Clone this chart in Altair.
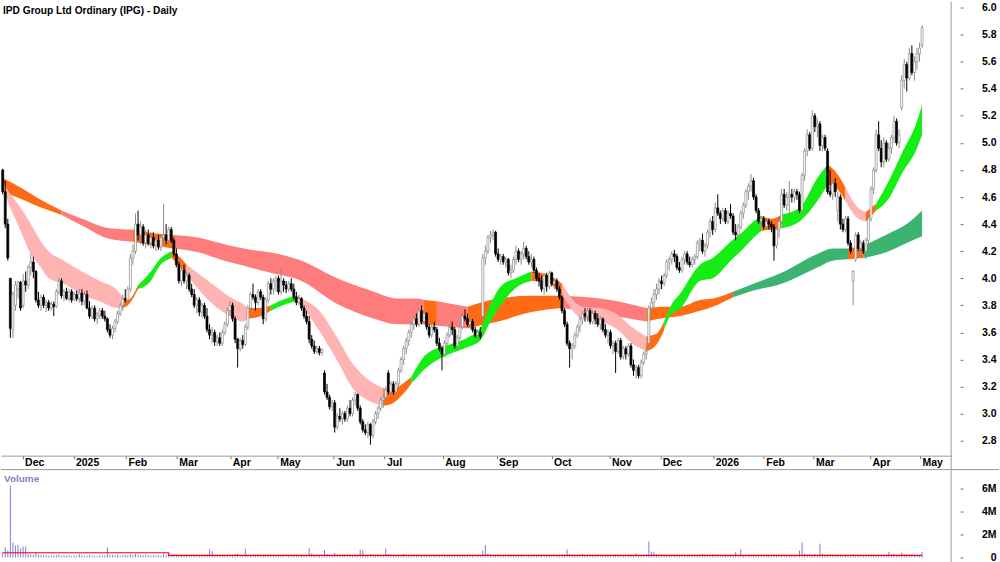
import json
import pandas as pd
import altair as alt

TITLE = "IPD Group Ltd Ordinary (IPG) - Daily"
FONT = "Liberation Sans, Arial, sans-serif"

# ---- daily candles (prices in cents), one value per trading day ----
OPEN = [
    480, 464, 440, 400, 362, 380, 392, 397, 380, 398,
    395, 408, 412, 405, 384, 380, 386, 380, 382, 378,
    381, 379, 390, 398, 387, 390, 385, 390, 384, 388,
    385, 389, 383, 388, 378, 372, 378, 370, 373, 376,
    372, 370, 362, 358, 363, 368, 374, 380, 385, 384,
    392, 415, 420, 440, 432, 438, 426, 432, 426, 430,
    424, 428, 423, 430, 432, 428, 436, 428, 418, 410,
    398, 406, 398, 402, 392, 388, 380, 384, 375, 380,
    372, 362, 358, 360, 353, 356, 352, 360, 366, 376,
    380, 370, 355, 348, 354, 351, 364, 378, 388, 386,
    382, 390, 386, 370, 384, 396, 392, 398, 400, 390,
    398, 395, 392, 396, 392, 386, 382, 385, 378, 372,
    368, 355, 350, 346, 348, 345, 330, 316, 312, 305,
    308, 290, 298, 296, 300, 296, 304, 300, 310, 314,
    304, 294, 288, 286, 292, 284, 294, 300, 304, 310,
    312, 330, 316, 322, 316, 322, 332, 340, 348, 354,
    360, 366, 370, 366, 376, 368, 374, 364, 358, 364,
    362, 352, 348, 344, 352, 358, 364, 362, 350, 356,
    364, 372, 370, 366, 368, 362, 358, 360, 372, 415,
    420, 430, 432, 434, 418, 414, 416, 412, 414, 404,
    406, 414, 420, 414, 418, 422, 416, 412, 414, 406,
    400, 398, 392, 402, 394, 404, 396, 398, 392, 386,
    376, 366, 352, 348, 350, 358, 364, 370, 374, 372,
    376, 368, 374, 370, 366, 370, 362, 358, 360, 350,
    352, 346, 354, 342, 348, 344, 350, 336, 332, 334,
    328, 338, 344, 352, 378, 382, 388, 392, 398, 396,
    402, 412, 414, 418, 416, 408, 406, 414, 418, 412,
    410, 414, 416, 426, 428, 420, 424, 434, 442, 436,
    452, 448, 444, 450, 442, 448, 446, 434, 432, 438,
    448, 454, 464, 468, 472, 460, 450, 442, 444, 438,
    442, 440, 438, 424, 436, 442, 462, 454, 460, 462,
    460, 464, 462, 450, 476, 494, 506, 496, 520, 512,
    514, 498, 504, 494, 464, 462, 470, 450, 460, 440,
    436, 444, 426, 398, 414, 432, 422, 426, 420, 428,
    444, 466, 480, 506, 496, 486, 500, 488, 496, 504,
    516, 500, 526, 546, 558, 548, 566, 552, 560, 566,
    572,
]
HIGH = [
    481, 472, 444, 400, 390, 398, 398, 398, 403, 405,
    410, 418, 416, 406, 390, 388, 388, 384, 384, 383,
    383, 392, 400, 400, 392, 393, 392, 392, 390, 391,
    392, 392, 390, 391, 383, 380, 380, 375, 378, 378,
    376, 371, 366, 365, 370, 376, 382, 388, 392, 394,
    418, 425, 448, 450, 442, 440, 436, 436, 434, 434,
    430, 432, 432, 455, 440, 438, 438, 430, 422, 412,
    410, 410, 405, 404, 396, 392, 386, 386, 382, 382,
    378, 366, 364, 362, 358, 360, 362, 368, 378, 383,
    382, 372, 356, 356, 358, 366, 380, 390, 396, 388,
    392, 392, 388, 386, 398, 400, 400, 402, 402, 408,
    400, 398, 398, 400, 396, 390, 388, 386, 380, 376,
    372, 358, 354, 350, 350, 348, 332, 322, 314, 310,
    310, 300, 304, 302, 302, 306, 310, 312, 316, 315,
    306, 296, 292, 294, 293, 296, 302, 306, 312, 314,
    320, 332, 324, 324, 324, 334, 342, 350, 356, 362,
    368, 372, 374, 378, 380, 376, 375, 366, 366, 368,
    364, 356, 350, 354, 360, 366, 368, 364, 358, 366,
    374, 377, 374, 372, 370, 364, 362, 364, 418, 424,
    432, 435, 436, 435, 422, 418, 418, 416, 415, 410,
    416, 424, 422, 420, 427, 424, 420, 418, 416, 408,
    404, 402, 404, 404, 406, 405, 400, 400, 394, 388,
    378, 368, 354, 352, 360, 366, 372, 376, 378, 378,
    378, 376, 376, 374, 372, 371, 366, 362, 362, 354,
    354, 356, 356, 350, 350, 352, 352, 340, 336, 336,
    340, 346, 350, 380, 386, 392, 396, 400, 402, 404,
    414, 416, 420, 421, 418, 412, 416, 420, 420, 416,
    416, 418, 428, 430, 433, 426, 436, 444, 446, 456,
    462, 450, 452, 452, 450, 455, 448, 440, 440, 450,
    456, 466, 470, 477, 474, 462, 452, 446, 446, 444,
    444, 442, 440, 438, 444, 466, 466, 464, 472, 466,
    466, 466, 464, 478, 496, 510, 508, 524, 522, 518,
    516, 506, 506, 496, 480, 472, 474, 464, 462, 444,
    446, 446, 428, 406, 434, 434, 428, 428, 430, 446,
    468, 482, 510, 516, 502, 504, 502, 500, 506, 520,
    518, 510, 550, 562, 560, 570, 572, 564, 570, 574,
    587,
]
LOW = [
    462, 437, 413, 356, 356, 376, 385, 376, 378, 390,
    392, 402, 400, 382, 378, 376, 378, 375, 376, 376,
    372, 378, 388, 385, 383, 384, 383, 382, 383, 383,
    382, 380, 380, 377, 370, 370, 368, 366, 370, 370,
    368, 360, 356, 355, 360, 366, 372, 376, 382, 383,
    390, 410, 418, 428, 425, 424, 422, 424, 422, 422,
    420, 421, 420, 426, 425, 425, 426, 416, 408, 396,
    394, 396, 392, 390, 386, 378, 374, 372, 371, 370,
    360, 355, 352, 350, 350, 350, 350, 358, 364, 372,
    368, 352, 334, 346, 348, 350, 362, 376, 384, 376,
    380, 384, 366, 368, 382, 388, 388, 390, 388, 388,
    390, 389, 390, 390, 384, 380, 380, 376, 370, 366,
    352, 348, 344, 344, 343, 343, 314, 310, 303, 302,
    286, 288, 294, 292, 294, 294, 298, 298, 306, 302,
    292, 286, 284, 282, 277, 282, 292, 296, 302, 304,
    310, 314, 314, 314, 315, 320, 330, 336, 344, 350,
    356, 362, 364, 364, 366, 366, 362, 356, 356, 360,
    350, 346, 332, 342, 350, 356, 358, 348, 346, 354,
    362, 368, 364, 362, 360, 356, 354, 355, 370, 410,
    418, 426, 428, 416, 412, 410, 410, 408, 402, 400,
    404, 410, 412, 410, 414, 414, 410, 408, 404, 398,
    394, 390, 388, 390, 392, 394, 392, 390, 384, 374,
    364, 350, 334, 340, 348, 356, 360, 366, 368, 368,
    366, 366, 366, 364, 362, 360, 356, 352, 348, 344,
    330, 344, 340, 340, 340, 342, 334, 328, 326, 326,
    326, 336, 340, 350, 374, 378, 384, 388, 392, 394,
    400, 406, 410, 412, 406, 404, 404, 410, 410, 408,
    408, 410, 414, 420, 418, 416, 422, 430, 432, 434,
    446, 440, 442, 440, 440, 444, 432, 428, 430, 436,
    444, 452, 458, 464, 458, 448, 440, 438, 436, 436,
    436, 434, 413, 422, 430, 440, 452, 450, 448, 456,
    456, 458, 448, 448, 472, 490, 494, 494, 508, 504,
    494, 494, 494, 462, 460, 458, 460, 442, 436, 434,
    434, 424, 418, 380, 412, 420, 418, 418, 414, 424,
    442, 462, 478, 494, 482, 482, 486, 486, 492, 500,
    498, 496, 524, 540, 538, 546, 550, 546, 554, 560,
    570,
]
CLOSE = [
    464, 440, 415, 363, 388, 395, 397, 378, 398, 395,
    408, 412, 405, 384, 380, 386, 380, 382, 378, 381,
    379, 390, 398, 387, 390, 385, 390, 384, 388, 385,
    389, 383, 388, 378, 372, 378, 370, 373, 376, 372,
    370, 362, 358, 363, 368, 374, 380, 385, 384, 392,
    415, 420, 440, 432, 438, 426, 432, 426, 430, 424,
    428, 423, 430, 432, 428, 436, 428, 418, 410, 398,
    406, 398, 402, 392, 388, 380, 384, 375, 380, 372,
    362, 358, 360, 353, 356, 352, 360, 366, 376, 380,
    370, 355, 348, 354, 351, 364, 378, 388, 386, 382,
    390, 386, 370, 384, 396, 392, 398, 400, 390, 398,
    395, 392, 396, 392, 386, 382, 385, 378, 372, 368,
    355, 350, 346, 348, 345, 347, 316, 312, 305, 308,
    290, 298, 296, 300, 296, 304, 300, 310, 314, 304,
    294, 288, 286, 292, 284, 294, 300, 304, 310, 312,
    318, 316, 322, 316, 322, 332, 340, 348, 354, 360,
    366, 370, 366, 376, 368, 374, 364, 358, 364, 362,
    352, 348, 344, 352, 358, 364, 362, 350, 356, 364,
    372, 370, 366, 368, 362, 358, 360, 357, 415, 420,
    430, 432, 434, 418, 414, 416, 412, 414, 404, 406,
    414, 420, 414, 418, 422, 416, 412, 414, 406, 400,
    398, 392, 402, 394, 404, 396, 398, 392, 386, 376,
    366, 352, 348, 350, 358, 364, 370, 374, 372, 376,
    368, 374, 370, 366, 370, 362, 358, 360, 350, 352,
    346, 354, 342, 348, 344, 350, 336, 332, 334, 328,
    338, 344, 346, 378, 382, 388, 392, 398, 396, 402,
    412, 414, 418, 416, 408, 406, 414, 418, 412, 410,
    414, 416, 426, 428, 420, 424, 434, 442, 436, 452,
    448, 444, 450, 442, 448, 446, 434, 432, 438, 448,
    454, 464, 468, 472, 460, 450, 442, 444, 438, 442,
    440, 438, 424, 436, 442, 462, 454, 460, 462, 460,
    464, 462, 450, 476, 494, 506, 496, 520, 512, 514,
    498, 504, 496, 464, 462, 470, 464, 460, 440, 436,
    444, 426, 420, 405, 432, 422, 426, 420, 428, 444,
    466, 480, 506, 496, 486, 500, 488, 496, 504, 516,
    500, 506, 546, 558, 548, 566, 552, 560, 566, 570,
    585,
]
# daily volume, thousands of shares
VOLUME_K = [
    430, 870, 600, 6260, 1300, 1040, 1100, 780, 950, 950,
    320, 280, 240, 400, 260, 210, 180, 230, 150, 190,
    170, 220, 260, 140, 180, 160, 210, 130, 170, 150,
    300, 190, 140, 160, 220, 180, 150, 130, 200, 170,
    190, 870, 260, 210, 180, 230, 160, 200, 240, 190,
    280, 220, 300, 250, 210, 180, 240, 200, 170, 190,
    160, 210, 180, 350, 200, 170, 150, 190, 220, 180,
    150, 130, 170, 120, 160, 140, 110, 150, 130, 170,
    220, 700, 560, 180, 150, 120, 140, 110, 160, 130,
    170, 280, 320, 150, 130, 780, 210, 160, 140, 120,
    110, 150, 130, 170, 120, 140, 160, 110, 130, 150,
    120, 100, 140, 110, 130, 150, 120, 170, 140, 160,
    800, 360, 180, 200, 150, 170, 650, 300, 210, 180,
    400, 220, 180, 160, 240, 200, 170, 150, 230, 190,
    650, 620, 210, 180, 260, 230, 200, 170, 190, 220,
    780, 300, 250, 190, 210, 180, 160, 300, 200, 170,
    190, 150, 210, 180, 160, 140, 200, 170, 150, 130,
    160, 180, 140, 150, 130, 170, 120, 140, 160, 130,
    150, 120, 140, 170, 130, 110, 150, 120, 600, 1100,
    350, 240, 200, 230, 180, 160, 190, 150, 170, 140,
    130, 160, 120, 150, 140, 110, 130, 150, 120, 140,
    160, 130, 110, 150, 120, 140, 100, 130, 150, 180,
    240, 700, 280, 200, 160, 180, 150, 320, 140, 130,
    150, 120, 140, 110, 160, 130, 120, 150, 110, 140,
    180, 150, 130, 160, 120, 140, 200, 170, 350, 220,
    190, 210, 240, 1400, 500, 500, 280, 230, 200, 180,
    160, 150, 140, 130, 150, 120, 110, 140, 130, 150,
    140, 120, 160, 130, 300, 150, 170, 140, 280, 130,
    150, 120, 140, 160, 130, 150, 170, 450, 200, 700,
    220, 190, 170, 150, 160, 140, 130, 150, 120, 140,
    130, 150, 170, 140, 160, 130, 150, 120, 170, 140,
    160, 180, 600, 1300, 350, 250, 280, 230, 300, 200,
    1200, 320, 250, 200, 280, 230, 190, 170, 200, 180,
    160, 150, 170, 260, 190, 140, 130, 160, 150, 140,
    170, 150, 160, 130, 200, 180, 160, 500, 280, 340,
    190, 220, 400, 260, 240, 200, 230, 190, 210, 180,
    500,
]
# red volume-average line (read as steps)
VOL_AVG_I = [0, 64, 65, 360]
VOL_AVG_K = [410, 410, 175, 175]

# short-term ribbon (bar index, lower, upper, colour code of the stretch that starts there)
SHORT_I = [0, 3, 7, 11, 15, 18, 24, 31, 38, 45, 47, 49, 53, 58, 61, 66, 69, 72, 77, 84,
           90, 94, 96, 101, 105, 111, 115, 117, 124, 131, 137, 144, 149, 152, 155, 160, 166, 175, 182, 187,
           191, 195, 201, 207, 214, 219, 227, 234, 240, 247, 252, 256, 259, 262, 265, 273, 278, 285, 289, 294,
           297, 301, 305, 312, 319, 323, 326, 330, 335, 338, 342, 347, 352, 358, 360]
SHORT_LO = [4.66, 4.52, 4.35, 4.18, 4.08, 4.00, 3.96, 3.88, 3.83, 3.78, 3.78, 3.80, 3.92, 3.98, 4.08, 4.15, 4.10, 4.03, 3.91, 3.78,
            3.71, 3.68, 3.70, 3.72, 3.76, 3.81, 3.83, 3.80, 3.61, 3.39, 3.19, 3.09, 3.06, 3.07, 3.11, 3.22, 3.34, 3.44, 3.49, 3.54,
            3.68, 3.80, 3.93, 3.98, 3.96, 3.88, 3.70, 3.68, 3.63, 3.51, 3.46, 3.51, 3.62, 3.74, 3.77, 3.98, 4.00, 4.13, 4.20, 4.30,
            4.35, 4.36, 4.37, 4.42, 4.57, 4.69, 4.67, 4.57, 4.44, 4.42, 4.50, 4.59, 4.77, 4.96, 5.06]
SHORT_HI = [4.71, 4.62, 4.52, 4.40, 4.27, 4.20, 4.13, 4.05, 3.98, 3.91, 3.86, 3.84, 3.95, 4.05, 4.13, 4.20, 4.16, 4.10, 4.03, 3.93,
            3.85, 3.81, 3.78, 3.78, 3.80, 3.85, 3.87, 3.85, 3.76, 3.56, 3.37, 3.24, 3.19, 3.17, 3.20, 3.27, 3.44, 3.51, 3.56, 3.63,
            3.81, 3.94, 4.00, 4.05, 4.02, 3.96, 3.79, 3.78, 3.74, 3.63, 3.57, 3.59, 3.68, 3.81, 3.88, 4.10, 4.15, 4.27, 4.33, 4.42,
            4.46, 4.44, 4.47, 4.52, 4.74, 4.84, 4.79, 4.67, 4.52, 4.49, 4.55, 4.72, 4.92, 5.16, 5.28]
SHORT_C = "PPPPPPPPPP" "OOGGGOOPPP" "PPOOGGOPPP" "PPOOOGGGGG" "GGGOOPPPPP" "OOGGGGGGGG" "OOGGGOOPPO" "GGGGG"

# long-term ribbon
LONG_I = [0, 8, 14, 23, 31, 42, 51, 60, 67, 77, 85, 97, 105, 117, 131, 144, 155, 162, 165, 170,
          182, 194, 207, 219, 234, 252, 260, 265, 273, 278, 286, 294, 305, 319, 325, 331, 337, 347, 354, 360]
LONG_LO = [4.64, 4.58, 4.53, 4.47, 4.39, 4.29, 4.27, 4.24, 4.22, 4.19, 4.14, 4.08, 4.04, 3.98, 3.81, 3.71, 3.66, 3.66, 3.66, 3.65,
           3.63, 3.68, 3.75, 3.78, 3.74, 3.68, 3.71, 3.72, 3.76, 3.79, 3.86, 3.91, 3.96, 4.08, 4.13, 4.14, 4.15, 4.20, 4.26, 4.31]
LONG_HI = [4.74, 4.66, 4.59, 4.50, 4.44, 4.37, 4.36, 4.33, 4.32, 4.30, 4.26, 4.21, 4.19, 4.13, 4.00, 3.91, 3.85, 3.85, 3.84, 3.83,
           3.79, 3.85, 3.87, 3.87, 3.85, 3.78, 3.79, 3.79, 3.84, 3.85, 3.90, 3.96, 4.04, 4.18, 4.22, 4.22, 4.24, 4.33, 4.40, 4.50]
LONG_C = "OOOSSSOOSS" "SSSSSSSSOS" "OOOSSOOOOO" "DDDDDODDDD"

COLORS = {"P": "#FFB4B4", "O": "#FF6A14", "G": "#14EE14", "S": "#FF7C7C", "D": "#3CB371"}

MONTH_POS = [7.8, 27.7, 48.3, 68.2, 89.1, 107.7, 129.6, 149.5, 172.3, 193.4, 214.9, 237.6,
             257.5, 278.2, 298.0, 317.5, 339.6, 359.2]
MONTH_LABELS = ["Dec", "2025", "Feb", "Mar", "Apr", "May", "Jun", "Jul", "Aug", "Sep", "Oct", "Nov",
                "Dec", "2026", "Feb", "Mar", "Apr", "May"]
PRICE_TICKS = [2.8, 3.0, 3.2, 3.4, 3.6, 3.8, 4.0, 4.2, 4.4, 4.6, 4.8, 5.0, 5.2, 5.4, 5.6, 5.8, 6.0]
VOLUME_TICKS = [0, 2000000, 4000000, 6000000]

# ---------------- build tables ----------------
n = min(len(OPEN), len(HIGH), len(LOW), len(CLOSE))
rows = []
for k in range(n):
    o, h, l, c = OPEN[k] / 100, HIGH[k] / 100, LOW[k] / 100, CLOSE[k] / 100
    up = c >= o
    rows.append({"i": k, "open": o, "high": h, "low": l, "close": c,
                 "wick": "#8C8C8C" if up else "#000000",
                 "fill": "#FFFFFF" if up else "#000000"})
candles = pd.DataFrame(rows)

vol = pd.DataFrame({"i": list(range(len(VOLUME_K))), "vol": [v * 1000 for v in VOLUME_K]})
vol_avg = pd.DataFrame({"i": VOL_AVG_I, "v": [v * 1000 for v in VOL_AVG_K]})


def band_rows(name, idx, lo, hi, codes):
    out = []
    m = min(len(idx), len(lo), len(hi), len(codes))
    a = 0
    seg = 0
    for k in range(1, m):
        if k == m - 1 or codes[k] != codes[a]:
            for j in range(a, k + 1):
                out.append({"i": idx[j], "lo": lo[j], "hi": hi[j],
                            "color": COLORS[codes[a]], "seg": f"{name}{seg}"})
            seg += 1
            a = k
    return pd.DataFrame(out)


long_df = band_rows("L", LONG_I, LONG_LO, LONG_HI, LONG_C)
short_df = band_rows("S", SHORT_I, SHORT_LO, SHORT_HI, SHORT_C)
one = pd.DataFrame({"a": [0]})

# ---------------- scales / axes ----------------
W, H = 952, 562
X_MIN, X_MAX = -0.664, 371.36
P_MIN, P_MAX = 1.9005, 6.0442
V_MIN, V_MAX = -434783, 48434783

x_scale = alt.Scale(domain=[X_MIN, X_MAX], nice=False, zero=False, padding=0)
p_scale = alt.Scale(domain=[P_MIN, P_MAX], nice=False, zero=False, padding=0)
v_scale = alt.Scale(domain=[V_MIN, V_MAX], nice=False, zero=False, padding=0)

label_expr = "{}[indexof({}, datum.value)]".format(json.dumps(MONTH_LABELS), json.dumps(MONTH_POS))
x_axis = alt.Axis(values=MONTH_POS, labelExpr=label_expr, orient="bottom", offset=-107,
                  domain=True, domainColor="#9A9A9A", domainWidth=1,
                  ticks=True, tickSize=3, tickColor="#707070",
                  labelAlign="left", labelBaseline="middle", labelPadding=4, labelOffset=2,
                  labelFont=FONT, labelFontSize=10.5, labelFontWeight="bold", labelColor="#000000",
                  labelOverlap=False, labelFlush=False, grid=False, title=None)
p_axis = alt.Axis(orient="right", values=PRICE_TICKS, format=".1f", domain=False,
                  ticks=True, tickSize=3, tickColor="#707070", offset=9,
                  labelAlign="right", labelBaseline="middle", labelPadding=33,
                  labelFont=FONT, labelFontSize=10.5, labelFontWeight="bold", labelColor="#000000",
                  labelOverlap=False, labelFlush=False, grid=False, title=None)
v_axis = alt.Axis(orient="right", values=VOLUME_TICKS,
                  labelExpr="datum.value == 0 ? '0' : format(datum.value / 1000000, 'd') + 'M'",
                  domain=False, ticks=True, tickSize=3, tickColor="#707070", offset=9,
                  labelAlign="right", labelBaseline="middle", labelPadding=33,
                  labelFont=FONT, labelFontSize=10.5, labelFontWeight="bold", labelColor="#000000",
                  labelOverlap=False, labelFlush=False, grid=False, title=None)


def X():
    return alt.X("i:Q", scale=x_scale, axis=x_axis, title=None)


# ---------------- price panel ----------------
long_area = alt.Chart(long_df).mark_area(interpolate="monotone", opacity=1).encode(
    x=X(),
    y=alt.Y("lo:Q", scale=p_scale, axis=p_axis, stack=None, title=None),
    y2="hi:Q",
    color=alt.Color("color:N", scale=None),
    detail="seg:N",
)
short_area = alt.Chart(short_df).mark_area(interpolate="monotone", opacity=1).encode(
    x=X(),
    y=alt.Y("lo:Q", scale=p_scale, axis=p_axis, stack=None, title=None),
    y2="hi:Q",
    color=alt.Color("color:N", scale=None),
    detail="seg:N",
)
wicks = alt.Chart(candles).mark_rule(strokeWidth=1).encode(
    x=X(),
    y=alt.Y("low:Q", scale=p_scale, axis=p_axis, title=None),
    y2="high:Q",
    color=alt.Color("wick:N", scale=None),
)
bodies = alt.Chart(candles).mark_bar(size=2, strokeWidth=0.7).encode(
    x=X(),
    y=alt.Y("open:Q", scale=p_scale, axis=p_axis, title=None),
    y2="close:Q",
    fill=alt.Fill("fill:N", scale=None),
    stroke=alt.Stroke("wick:N", scale=None),
)
price = alt.layer(long_area, short_area, wicks, bodies)

# ---------------- volume panel ----------------
vol_bars = alt.Chart(vol).mark_rule(color="#7C7CE0", strokeWidth=1).encode(
    x=X(),
    y=alt.Y("vol:Q", scale=v_scale, axis=v_axis, title=None),
    y2=alt.datum(0),
)
vol_line = alt.Chart(vol_avg).mark_line(color="#FF0000", strokeWidth=1.2, interpolate="step-after").encode(
    x=X(),
    y=alt.Y("v:Q", scale=v_scale, axis=v_axis, title=None),
)
volume = alt.layer(vol_bars, vol_line)

# ---------------- frame lines and texts ----------------
right_line = alt.Chart(one).mark_rule(color="#9A9A9A", strokeWidth=1).encode(
    x=alt.value(W), y=alt.value(0), y2=alt.value(H))
sep_line = alt.Chart(one).mark_rule(color="#9A9A9A", strokeWidth=1).encode(
    x=alt.value(0), x2=alt.value(1000), y=alt.value(469))
title = alt.Chart(one).mark_text(text=TITLE, align="left", baseline="middle", font=FONT,
                                 fontSize=10.2, fontWeight="bold", color="#000000").encode(
    x=alt.value(2), y=alt.value(9))
vol_label = alt.Chart(one).mark_text(text="Volume", align="left", baseline="middle", font=FONT,
                                     fontSize=10, fontWeight="bold", color="#8282C6").encode(
    x=alt.value(3), y=alt.value(478))

chart = (
    alt.layer(price, volume, right_line, sep_line, title, vol_label)
    .resolve_scale(y="independent")
    .properties(width=W, height=H, padding=0, background="white")
    .configure_view(strokeWidth=0)
)

chart.save("out.html", embed_options={"renderer": "svg", "actions": False})
